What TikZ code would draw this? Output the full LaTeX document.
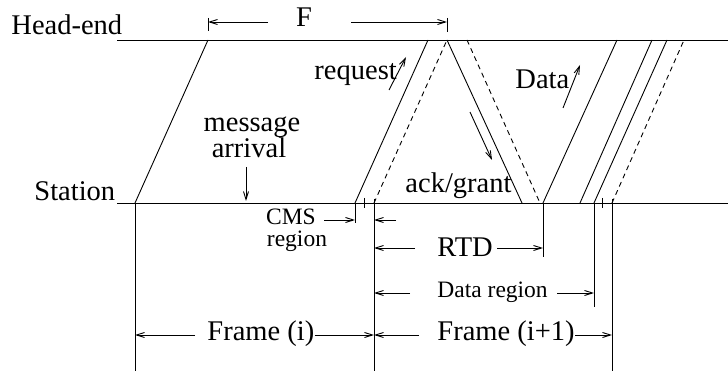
\documentclass[tikz,border=0pt]{standalone}
\usepackage{fontspec}
\setmainfont{Liberation Serif}
\usetikzlibrary{arrows.meta}
\begin{document}
\begin{tikzpicture}[x=1pt,y=-1pt, line width=0.9pt,
  big/.style={font=\fontsize{28.5}{20}\selectfont, inner sep=0pt},
  small/.style={font=\fontsize{23.5}{20}\selectfont, inner sep=0pt},
  arr/.style={-{Straight Barb[length=8pt,width=5pt]}},
  dsh/.style={dash pattern=on 5pt off 4pt}]
\useasboundingbox (0,0) rectangle (728,371);
% time lines
\coordinate (H0) at (117,40); \coordinate (H1) at (728,40);
\coordinate (S0) at (117,203); \coordinate (S1) at (728,203);
\draw (H0) -- (H1);
\draw (S0) -- (S1);
\node[big, anchor=base west] (he) at (11,35) {Head-end};
\node[big, anchor=base west] (st) at (34,201) {Station};
% signal lines
\coordinate (a1s) at (135,203); \coordinate (a1h) at (208,40);
\coordinate (r1s) at (355,203); \coordinate (r1h) at (428,40);
\coordinate (r2s) at (374,203); \coordinate (r2h) at (447,40);
\coordinate (g1h) at (447,40);  \coordinate (g1s) at (522,203);
\coordinate (g2h) at (467,40);  \coordinate (g2s) at (540,203);
\coordinate (d1s) at (543,203); \coordinate (d1h) at (617,40);
\coordinate (d2s) at (580,203); \coordinate (d2h) at (652,40);
\coordinate (d3s) at (594,203); \coordinate (d3h) at (667,40);
\coordinate (d4s) at (612,203); \coordinate (d4h) at (684,40);
\draw (a1s) -- (a1h);
\draw (r1s) -- (r1h);
\draw[dsh] (r2s) -- (r2h);
\draw (g1h) -- (g1s);
\draw[dsh] (g2h) -- (g2s);
\draw (d1s) -- (d1h);
\draw (d2s) -- (d2h);
\draw (d3s) -- (d3h);
\draw[dsh] (d4s) -- (d4h);
% verticals and ticks
\coordinate (v1b) at (135,371);
\coordinate (v2b) at (355,223);
\coordinate (v3t) at (374,199); \coordinate (v3b) at (374,371);
\coordinate (v4b) at (543,257);
\coordinate (v5b) at (594,307);
\coordinate (v6t) at (612,199); \coordinate (v6b) at (612,371);
\draw (a1s) -- (v1b);
\draw (r1s) -- (v2b);
\draw (364,198) -- (364,208);
\draw (v3t) -- (v3b);
\draw (d1s) -- (v4b);
\draw (d3s) -- (v5b);
\draw (602,198) -- (602,208);
\draw (v6t) -- (v6b);
% F dimension
\coordinate (Ft1) at (208,18); \coordinate (Fb1) at (208,31);
\coordinate (Ft2) at (447,18); \coordinate (Fb2) at (447,32);
\draw (Ft1) -- (Fb1);
\draw (Ft2) -- (Fb2);
\node[big, anchor=base] (F) at (304,27) {F};
\draw[arr] (268,22) -- (208,22);
\draw[arr] (351,22) -- (447,22);
% message arrival
\node[big, anchor=base] (msg) at (252,132) {message};
\node[big, anchor=base] (arv) at (249,158) {arrival};
\draw[arr] (246,167) -- (246,201);
% request, data, ack/grant
\node[big, anchor=base west] (req) at (314,80) {request};
\draw[arr] (389,90) -- (406,57);
\node[big, anchor=base west] (data) at (515,89) {Data};
\draw[arr] (563,108) -- (580,65);
\node[big, anchor=base west] (ack) at (405,193) {ack/grant};
\draw[arr] (470,112) -- (492,160);
% CMS region
\node[small, anchor=base] (cms) at (291,225) {CMS};
\node[small, anchor=base] (reg) at (297,247) {region};
\draw[arr] (324,220) -- (355,220);
\draw[arr] (396,220) -- (374,220);
% RTD
\node[big, anchor=base west] (rtd) at (437,257) {RTD};
\draw[arr] (415,248) -- (374,248);
\draw[arr] (497,248) -- (543,248);
% Data region
\node[small, anchor=base west] (dreg) at (437,298) {Data region};
\draw[arr] (410,293) -- (374,293);
\draw[arr] (557,293) -- (594,293);
% Frames
\node[big, anchor=base west] (fr1) at (207,340) {Frame (i)};
\draw[arr] (195,335) -- (135,335);
\draw[arr] (fr1.east |- 0,335) -- (374,335);
\node[big, anchor=base west] (fr2) at (437,340) {Frame (i+1)};
\draw[arr] (419,335) -- (374,335);
\draw[arr] (fr2.east |- 0,335) -- (612,335);
\end{tikzpicture}
\end{document}
